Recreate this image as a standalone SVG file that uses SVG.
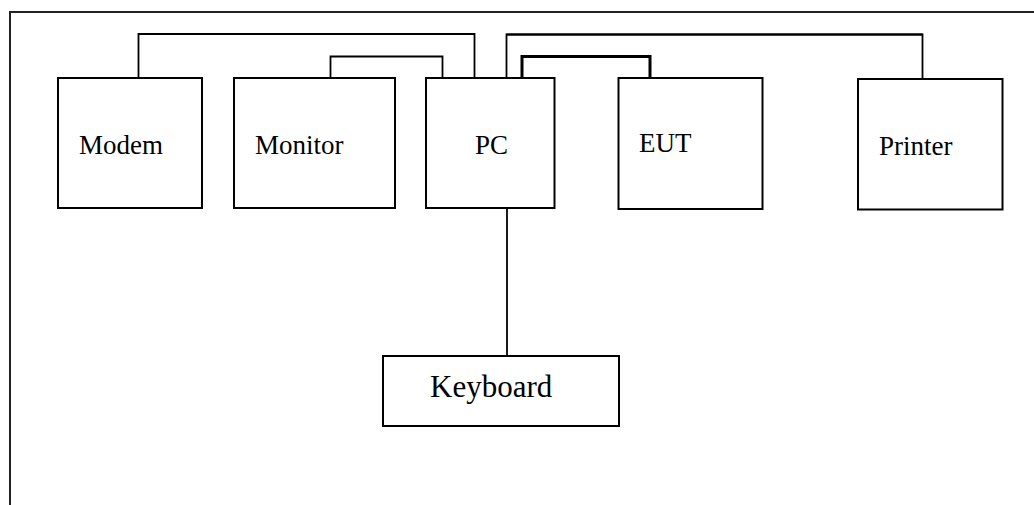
<svg xmlns="http://www.w3.org/2000/svg" width="1034" height="505" viewBox="0 0 1034 505">
<style>
.box{fill:#fff;stroke:#000;stroke-width:2}
.lbl{font-family:"Liberation Serif","Times New Roman",serif;font-size:27px;fill:#000}
.wire{fill:none;stroke:#000;stroke-width:1.8}
.thick{stroke-width:3}
.frame{fill:none;stroke:#222;stroke-width:2}
</style>
<rect width="1034" height="505" fill="#fff"/>
<path class="frame" d="M10 505 V12 H1034"/>
<g id="connectors">
<path class="wire" d="M138.5 78 V34 H474.5 V78"/>
<path class="wire" d="M330.5 78 V56.5 H442.5 V78"/>
<path class="wire thick" d="M522 78 V56.5 H650 V78"/>
<path class="wire" d="M506.5 78 V34.5 H922.5 V79"/>
<path class="wire" stroke-width="2.6" d="M506.5 34.5 H922.5"/>
<path class="wire" d="M507 208 V356"/>
</g>
<g id="modem"><rect class="box" x="58" y="78" width="144" height="130"/><text class="lbl" x="79" y="154">Modem</text></g>
<g id="monitor"><rect class="box" x="234" y="78" width="161" height="130"/><text class="lbl" x="255" y="154">Monitor</text></g>
<g id="pc"><rect class="box" x="426" y="78" width="128.5" height="130"/><text class="lbl" x="475" y="154">PC</text></g>
<g id="eut"><rect class="box" x="618.5" y="78" width="144" height="131"/><text class="lbl" x="639" y="151.5">EUT</text></g>
<g id="printer"><rect class="box" x="858" y="79" width="144.5" height="130.5"/><text class="lbl" x="879" y="155">Printer</text></g>
<g id="keyboard"><rect class="box" x="383" y="356" width="236" height="70"/><text class="lbl" x="430" y="397" style="font-size:31px">Keyboard</text></g>
</svg>
